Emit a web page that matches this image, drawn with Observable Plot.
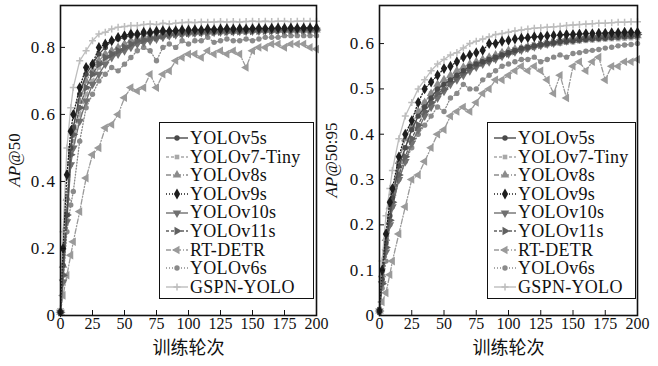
<!DOCTYPE html>
<html>
<head>
<meta charset="utf-8">
<script src="https://cdn.jsdelivr.net/npm/d3@7"></script>
<script src="https://cdn.jsdelivr.net/npm/@observablehq/plot@0.6"></script>
<style>
  html, body { margin: 0; padding: 0; background: #fff; }
  #wrap { position: relative; width: 658px; height: 366px; overflow: hidden; }
  .panel { position: absolute; top: 0; }
  .legend { position: absolute; background: #fff; border: 1.5px solid #111; box-sizing: border-box;
            font-family: "Liberation Serif", serif; font-size: 18px; color: #111; padding: 6px 0 0 5px; }
  .legend .row { display: flex; align-items: center; height: 18.6px; line-height: 18.6px; white-space: nowrap; letter-spacing: 0.3px; }
  .legend svg { flex: none; margin-right: 1px; }
</style>
</head>
<body>
<div id="wrap"></div>
<script>
// ---- data ----
const epochs = [0,2,5,8,10, 15,20,25,30,35,40,45,50, 55,60,65,70,75,80,85,90,95,100, 105,110,115,120,125,130,135,140,145,150, 155,160,165,170,175,180,185,190,195,200];
const seriesNames = ["YOLOv5s","YOLOv7-Tiny","YOLOv8s","YOLOv9s","YOLOv10s","YOLOv11s","RT-DETR","YOLOv6s","GSPN-YOLO"];
const xTicks = [0,25,50,75,100,125,150,175,200];
const yTicks50 = [0,0.2,0.4,0.6,0.8];
const yTicks5095 = [0,0.1,0.2,0.3,0.4,0.5,0.6];

// AP@50
const ap50_v5s  = [0.01,0.15,0.3,0.5,0.56, 0.66,0.72,0.75,0.78,0.8,0.82,0.825,0.83, 0.835,0.838,0.84,0.842,0.845,0.845,0.848,0.85,0.848,0.85, 0.852,0.85,0.852,0.853,0.852,0.853,0.854,0.853,0.854,0.855, 0.854,0.855,0.855,0.856,0.855,0.856,0.855,0.856,0.856,0.856];
const ap50_v7t  = [0.01,0.12,0.3,0.45,0.52, 0.6,0.66,0.7,0.74,0.76,0.78,0.79,0.8, 0.81,0.815,0.82,0.825,0.83,0.832,0.835,0.838,0.84,0.84, 0.842,0.843,0.844,0.845,0.846,0.846,0.847,0.847,0.848,0.848, 0.848,0.849,0.849,0.85,0.85,0.85,0.85,0.85,0.851,0.851];
const ap50_v8s  = [0.01,0.15,0.35,0.5,0.56, 0.64,0.7,0.73,0.76,0.78,0.79,0.8,0.81, 0.82,0.825,0.83,0.832,0.835,0.838,0.84,0.842,0.843,0.844, 0.845,0.846,0.846,0.847,0.847,0.848,0.848,0.849,0.849,0.85, 0.85,0.85,0.851,0.851,0.851,0.852,0.852,0.852,0.852,0.852];
const ap50_v9s  = [0.01,0.2,0.42,0.55,0.6, 0.68,0.74,0.75,0.8,0.81,0.82,0.83,0.835, 0.84,0.84,0.845,0.845,0.848,0.85,0.848,0.85,0.852,0.852, 0.853,0.852,0.855,0.853,0.855,0.856,0.855,0.856,0.855,0.856, 0.857,0.856,0.857,0.858,0.857,0.858,0.857,0.858,0.858,0.858];
const ap50_v10s = [0.01,0.1,0.28,0.45,0.5, 0.58,0.64,0.69,0.72,0.75,0.77,0.78,0.79, 0.8,0.81,0.815,0.82,0.825,0.83,0.835,0.838,0.84,0.842, 0.843,0.844,0.845,0.845,0.846,0.847,0.847,0.848,0.848,0.849, 0.849,0.85,0.85,0.85,0.85,0.851,0.851,0.851,0.851,0.851];
const ap50_v11s = [0.01,0.12,0.3,0.48,0.54, 0.62,0.68,0.72,0.75,0.77,0.78,0.79,0.8, 0.81,0.82,0.822,0.828,0.83,0.835,0.838,0.84,0.842,0.843, 0.844,0.845,0.845,0.846,0.847,0.847,0.848,0.848,0.849,0.849, 0.85,0.85,0.85,0.851,0.851,0.851,0.852,0.852,0.852,0.852];
const ap50_rtdetr = [0.01,0.06,0.12,0.18,0.22, 0.31,0.41,0.48,0.5,0.56,0.57,0.6,0.65, 0.68,0.67,0.68,0.72,0.68,0.72,0.73,0.76,0.77,0.78, 0.78,0.77,0.79,0.78,0.79,0.78,0.79,0.78,0.74,0.79, 0.8,0.8,0.81,0.81,0.8,0.81,0.81,0.81,0.8,0.795];
const ap50_v6s  = [0.01,0.1,0.25,0.33,0.37, 0.52,0.62,0.66,0.7,0.72,0.74,0.73,0.75, 0.77,0.79,0.8,0.79,0.76,0.8,0.81,0.8,0.82,0.81, 0.82,0.82,0.83,0.815,0.82,0.825,0.82,0.82,0.825,0.82, 0.825,0.83,0.83,0.83,0.835,0.835,0.835,0.835,0.835,0.835];
const ap50_gspn = [0.02,0.25,0.5,0.62,0.68, 0.76,0.79,0.82,0.84,0.845,0.855,0.86,0.862, 0.865,0.865,0.868,0.87,0.868,0.872,0.87,0.872,0.874,0.875, 0.874,0.876,0.875,0.876,0.877,0.876,0.877,0.876,0.877,0.878, 0.877,0.878,0.877,0.878,0.878,0.877,0.878,0.878,0.878,0.878];

// AP@50:95
const ap5095_v5s  = [0.01,0.08,0.16,0.22,0.26, 0.33,0.37,0.41,0.44,0.46,0.48,0.5,0.51, 0.52,0.53,0.54,0.55,0.555,0.56,0.565,0.57,0.575,0.58, 0.585,0.59,0.592,0.595,0.598,0.6,0.602,0.604,0.605,0.606, 0.608,0.609,0.61,0.611,0.612,0.613,0.614,0.615,0.616,0.617];
const ap5095_v7t  = [0.01,0.08,0.15,0.22,0.25, 0.32,0.37,0.41,0.44,0.47,0.49,0.505,0.515, 0.525,0.535,0.545,0.55,0.555,0.56,0.565,0.57,0.575,0.58, 0.583,0.586,0.59,0.592,0.595,0.597,0.6,0.6,0.602,0.603, 0.605,0.606,0.607,0.608,0.609,0.61,0.61,0.611,0.612,0.612];
const ap5095_v8s  = [0.01,0.09,0.17,0.24,0.27, 0.34,0.39,0.42,0.45,0.47,0.49,0.51,0.52, 0.53,0.54,0.548,0.555,0.56,0.565,0.57,0.575,0.58,0.585, 0.588,0.59,0.593,0.596,0.598,0.6,0.602,0.604,0.606,0.607, 0.609,0.61,0.611,0.612,0.613,0.614,0.615,0.615,0.616,0.617];
const ap5095_v9s  = [0.01,0.1,0.18,0.25,0.28, 0.35,0.4,0.43,0.47,0.5,0.515,0.53,0.545, 0.55,0.56,0.57,0.575,0.58,0.585,0.6,0.6,0.605,0.607, 0.61,0.612,0.613,0.615,0.615,0.617,0.618,0.619,0.62,0.62, 0.621,0.622,0.622,0.623,0.623,0.624,0.624,0.625,0.625,0.625];
const ap5095_v10s = [0.01,0.07,0.14,0.2,0.24, 0.3,0.34,0.38,0.41,0.44,0.46,0.48,0.495, 0.51,0.52,0.53,0.54,0.548,0.555,0.56,0.566,0.572,0.577, 0.582,0.586,0.59,0.593,0.596,0.599,0.601,0.604,0.606,0.608, 0.61,0.612,0.613,0.614,0.615,0.616,0.617,0.618,0.619,0.62];
const ap5095_v11s = [0.01,0.07,0.15,0.21,0.25, 0.31,0.35,0.39,0.42,0.45,0.47,0.49,0.5, 0.515,0.525,0.535,0.545,0.552,0.558,0.563,0.568,0.574,0.578, 0.583,0.587,0.59,0.594,0.597,0.6,0.602,0.605,0.607,0.609, 0.611,0.612,0.614,0.615,0.616,0.617,0.618,0.619,0.62,0.62];
const ap5095_rtdetr = [0.01,0.03,0.05,0.09,0.12, 0.18,0.24,0.3,0.31,0.34,0.37,0.4,0.41, 0.44,0.45,0.46,0.45,0.47,0.49,0.5,0.52,0.52,0.53, 0.54,0.55,0.54,0.55,0.54,0.52,0.49,0.53,0.48,0.55, 0.56,0.54,0.56,0.57,0.52,0.55,0.55,0.56,0.56,0.565];
const ap5095_v6s  = [0.01,0.06,0.12,0.2,0.24, 0.3,0.34,0.37,0.4,0.42,0.44,0.46,0.45, 0.48,0.49,0.51,0.5,0.5,0.52,0.53,0.54,0.55,0.555, 0.56,0.565,0.565,0.57,0.56,0.565,0.57,0.575,0.57,0.578, 0.58,0.583,0.585,0.587,0.59,0.592,0.595,0.597,0.598,0.6];
const ap5095_gspn = [0.01,0.12,0.22,0.28,0.32, 0.39,0.44,0.47,0.5,0.52,0.54,0.555,0.565, 0.575,0.58,0.59,0.6,0.605,0.61,0.615,0.62,0.622,0.625, 0.628,0.63,0.632,0.634,0.635,0.636,0.637,0.638,0.64,0.641, 0.642,0.643,0.644,0.645,0.645,0.646,0.647,0.647,0.648,0.648];

const ap50Values = [ap50_v5s, ap50_v7t, ap50_v8s, ap50_v9s, ap50_v10s, ap50_v11s, ap50_rtdetr, ap50_v6s, ap50_gspn];
const ap5095Values = [ap5095_v5s, ap5095_v7t, ap5095_v8s, ap5095_v9s, ap5095_v10s, ap5095_v11s, ap5095_rtdetr, ap5095_v6s, ap5095_gspn];

// ---- styles ----
const styles = [
  {color: "#4a4a4a", dash: null,      symbol: "circle",   rotate: 0,   r: 2.7},
  {color: "#a8a8a8", dash: "3,2",     symbol: "square",   rotate: 0,   r: 2.6},
  {color: "#8c8c8c", dash: "5,2,1,2", symbol: "triangle", rotate: 0,   r: 3.2},
  {color: "#1e1e1e", dash: "1,2",     symbol: "diamond",  rotate: 0,   r: 3.3},
  {color: "#707070", dash: null,      symbol: "triangle", rotate: 180, r: 3.2},
  {color: "#606060", dash: "3,2",     symbol: "triangle", rotate: 90,  r: 3.2},
  {color: "#9a9a9a", dash: "5,2,1,2", symbol: "triangle", rotate: -90, r: 3.2},
  {color: "#8a8a8a", dash: "1,2",     symbol: "circle",   rotate: 0,   r: 2.7},
  {color: "#bdbdbd", dash: null,      symbol: "plus",     rotate: 0,   r: 2.4}
];

function rowsFor(values) {
  return seriesNames.map((name, i) => epochs.map((e, j) => ({epoch: e, value: values[i][j], name})));
}

function makePlot(values, opts) {
  const rows = rowsFor(values);
  const marks = [];
  const order = [6, 7, 1, 2, 4, 5, 0, 8, 3];
  for (const i of order) {
    const s = styles[i];
    marks.push(Plot.line(rows[i], {x: "epoch", y: "value", stroke: s.color, strokeWidth: 1.3, strokeDasharray: s.dash || undefined}));
    marks.push(Plot.dot(rows[i], {x: "epoch", y: "value", symbol: s.symbol, r: s.r, fill: s.color, stroke: s.symbol === "plus" ? s.color : "none", strokeWidth: s.symbol === "plus" ? 1.5 : undefined, rotate: s.rotate}));
  }
  marks.push(Plot.frame({stroke: "#111", strokeWidth: 1.6}));
  marks.push(Plot.axisX({ticks: xTicks, tickSize: -5, tickPadding: 7, label: null, fontSize: 16, stroke: "#111"}));
  marks.push(Plot.axisY({ticks: opts.yTicks, tickSize: -5, tickPadding: 9, label: null, fontSize: 17, tickFormat: d => d === 0 ? "0" : d.toFixed(1), stroke: "#111"}));
  marks.push(Plot.text(["训练轮次"], {frameAnchor: "bottom", dy: 38, fontSize: 18, fontFamily: "Noto Sans CJK SC", fill: "#111"}));
  const svg = Plot.plot({
    width: 329, height: 366,
    marginLeft: opts.ml, marginRight: opts.mr, marginTop: 5, marginBottom: 51,
    x: {domain: [0, 200]},
    y: {domain: opts.yDomain},
    style: {fontFamily: "Liberation Serif, serif", fontSize: "17px", color: "#111", background: "transparent", overflow: "visible"},
    marks
  });
  const yl = svg.querySelector('[aria-label="y-axis tick label"]');
  if (yl) yl.setAttribute("letter-spacing", "1.5");
  return svg;
}

const wrap = document.getElementById("wrap");

function addPanel(values, opts) {
  const div = document.createElement("div");
  div.className = "panel";
  div.style.left = opts.left + "px";
  const svg = makePlot(values, opts);
  div.appendChild(svg);
  wrap.appendChild(div);
  const t = d3.select(svg).append("text")
    .attr("transform", `translate(${opts.titleX},${(5 + 315) / 2}) rotate(-90)`)
    .attr("text-anchor", "middle")
    .attr("font-family", "Liberation Serif, serif")
    .attr("font-size", 17)
    .attr("fill", "#111");
  t.append("tspan").attr("font-style", "italic").text("AP");
  t.append("tspan").text(opts.titleRest);
  const lg = document.createElement("div");
  lg.className = "legend";
  lg.style.left = opts.legend[0] + "px";
  lg.style.top = opts.legend[1] + "px";
  lg.style.width = opts.legend[2] + "px";
  lg.style.height = opts.legend[3] + "px";
  seriesNames.forEach((name, i) => {
    const s = styles[i];
    const row = document.createElement("div");
    row.className = "row";
    const sw = d3.create("svg").attr("width", 24).attr("height", 12);
    sw.append("line").attr("x1", 1).attr("x2", 23).attr("y1", 6).attr("y2", 6)
      .attr("stroke", s.color).attr("stroke-width", 1.4).attr("stroke-dasharray", s.dash);
    const symMap = {circle: d3.symbolCircle, square: d3.symbolSquare, triangle: d3.symbolTriangle, diamond: d3.symbolDiamond, plus: d3.symbolPlus};
    const p = sw.append("path")
      .attr("d", d3.symbol(symMap[s.symbol], Math.PI * s.r * s.r)())
      .attr("transform", `translate(12,6) rotate(${s.rotate})`);
    if (s.symbol === "plus") p.attr("fill", "none").attr("stroke", s.color).attr("stroke-width", 1.5);
    else p.attr("fill", s.color);
    row.appendChild(sw.node());
    const span = document.createElement("span");
    span.textContent = name;
    row.appendChild(span);
    lg.appendChild(row);
  });
  wrap.appendChild(lg);
}

addPanel(ap50Values, {left: 0, ml: 60, mr: 13, yDomain: [0, 0.925], yTicks: yTicks50, titleX: 20, titleRest: "@50", legend: [159, 122, 155, 177]});
addPanel(ap5095Values, {left: 329, ml: 50, mr: 21, yDomain: [0, 0.684], yTicks: yTicks5095, titleX: 8, titleRest: "@50:95", legend: [487, 122, 149, 177]});
</script>
</body>
</html>
